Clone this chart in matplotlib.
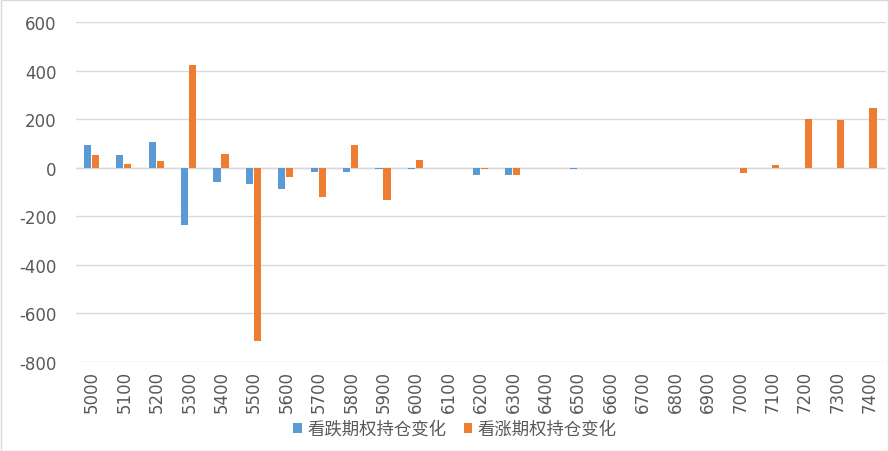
import matplotlib
matplotlib.use("Agg")
import matplotlib.pyplot as plt
import numpy as np

plt.rcParams['font.family'] = ['Noto Sans CJK SC', 'DejaVu Sans']

categories = [str(v) for v in range(5000, 7500, 100)]
put_change = [92, 52, 106, -235, -60, -67, -87, -16, -16, -4, -4, 0, -29, -29, 0, -5, 0, 0, 0, 0, 0, 0, 0, 0, 0]
call_change = [52, 14, 29, 425, 56, -713, -37, -122, 95, -133, 33, 0, -5, -29, 0, 0, 0, 0, 0, 0, -21, 11, 200, 197, 246]
series_names = ['看跌期权持仓变化', '看涨期权持仓变化']
yticks = [-800, -600, -400, -200, 0, 200, 400, 600]

W, H = 889, 452
fig = plt.figure(figsize=(W/100, H/100), dpi=100)
ax = fig.add_axes([76/W, 1-363/H, 810/W, 340/H])

x = np.arange(len(categories))
bw = 0.22
ax.bar(x - 0.15, put_change, width=bw, color='#5B9BD5', label=series_names[0], zorder=3)
ax.bar(x + 0.10, call_change, width=bw, color='#ED7D31', label=series_names[1], zorder=3)

ax.set_xlim(-0.5, len(categories) - 0.5)
ax.set_ylim(-800, 600)
ax.set_yticks(yticks)
ax.set_yticklabels([str(v) for v in yticks], color='#595959', fontsize=12, family='DejaVu Sans')
ax.set_xticks(x)
ax.set_xticklabels(categories, rotation=90, color='#595959', fontsize=12, family='DejaVu Sans')
ax.tick_params(axis='both', length=0)
ax.tick_params(axis='y', pad=14)
ax.tick_params(axis='x', pad=6)
ax.grid(axis='y', color='#D9D9D9', linewidth=1, zorder=0)
ax.axhline(0, color='#D9D9D9', linewidth=1, zorder=1)
for s in ax.spines.values():
    s.set_visible(False)

leg = fig.legend(loc='center', bbox_to_anchor=(455/W, 1-430/H), ncol=2, frameon=False,
                 fontsize=12.5, handlelength=0.5, handleheight=0.5, handletextpad=0.3, columnspacing=1.0)
for t in leg.get_texts():
    t.set_color('#595959')

fig.patches.append(plt.Rectangle((0.5/W, 0.5/H), 1-1.5/W, 1-1.5/H, transform=fig.transFigure,
                                 fill=False, edgecolor='#D9D9D9', linewidth=1))

fig.savefig('out.png', dpi=100)
